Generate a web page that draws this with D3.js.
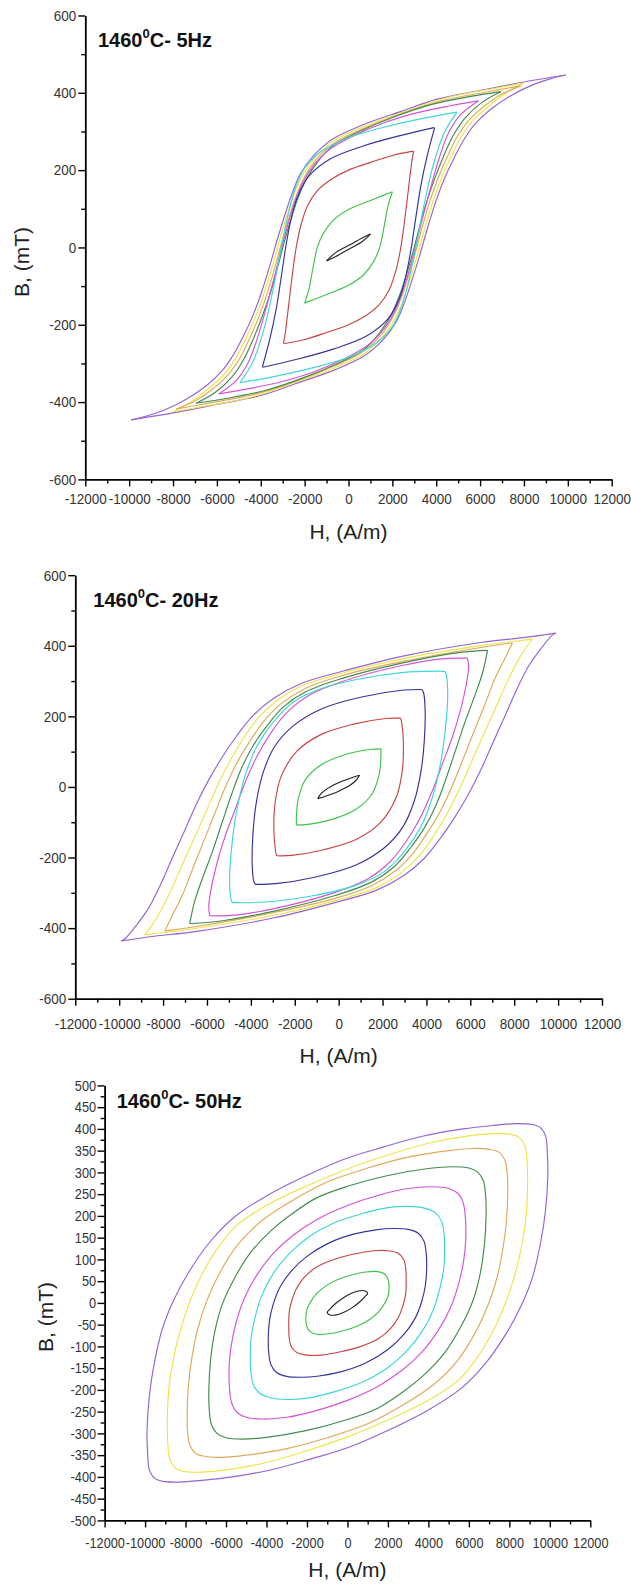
<!DOCTYPE html>
<html><head><meta charset="utf-8">
<script src="https://cdn.jsdelivr.net/npm/d3@7"></script>
<style>body{margin:0;background:#fff} svg{display:block}</style>
</head><body>
<svg id="c" width="631" height="1590"></svg>
<script>
// ---------- data ----------
const loopOrder = ["purple","yellow","orange","dkgreen","magenta","cyan","navy","red","green","black"];
const loopColors = {purple:"#9464d2", yellow:"#eee44a", orange:"#e2a858", dkgreen:"#3f8c4c",
  magenta:"#d452d8", cyan:"#3fd6d6", navy:"#33339e", red:"#c84545", green:"#3fc44a", black:"#222222"};

const xTicks = [-12000,-10000,-8000,-6000,-4000,-2000,0,2000,4000,6000,8000,10000,12000];
const xMinor = [-11000,-9000,-7000,-5000,-3000,-1000,1000,3000,5000,7000,9000,11000];
const yTicks600 = [-600,-400,-200,0,200,400,600];
const yMinor600 = [-500,-300,-100,100,300,500];
const yTicks500 = [-500,-450,-400,-350,-300,-250,-200,-150,-100,-50,0,50,100,150,200,250,300,350,400,450,500];
const yMinor500 = [-475,-425,-375,-325,-275,-225,-175,-125,-75,-25,25,75,125,175,225,275,325,375,425,475];

// Each array: descending (upper) branch of the loop, [H (A/m), B (mT)], from +tip to -tip.
// The ascending branch is its point reflection (loops are symmetric about the origin).
// 1460 C - 5 Hz
const f5_purple = [[9900,446],[8000,428],[6000,406],[4000,383],[2400,352],[600,316],[-700,281],[-1600,237],[-2200,190],[-2600,135],[-2950,75],[-3250,20],[-3550,-40],[-3900,-105],[-4350,-175],[-4870,-238],[-5330,-285],[-5780,-320],[-6470,-357],[-7380,-392],[-8290,-418],[-9200,-436],[-9900,-446]];
const f5_yellow = [[8000,425],[6500,410],[4500,388],[2500,350],[700,313],[-650,277],[-1520,233],[-2100,187],[-2500,135],[-2850,75],[-3140,20],[-3430,-40],[-3770,-105],[-4210,-175],[-4700,-238],[-5150,-287],[-5650,-327],[-6400,-366],[-7200,-400],[-8000,-425]];
const f5_orange = [[7850,418],[6300,402],[4300,380],[2400,346],[700,308],[-600,272],[-1450,229],[-2000,183],[-2400,131],[-2740,72],[-3030,17],[-3310,-42],[-3640,-107],[-4070,-177],[-4530,-238],[-4980,-289],[-5500,-330],[-6200,-366],[-7000,-397],[-7850,-418]];
const f5_dkgreen = [[6950,403],[5500,390],[3800,370],[2100,338],[500,300],[-700,264],[-1400,222],[-1930,176],[-2320,125],[-2650,68],[-2930,14],[-3200,-45],[-3520,-110],[-3930,-178],[-4350,-238],[-4780,-290],[-5300,-334],[-6100,-376],[-6950,-403]];
const f5_magenta = [[5920,379],[4600,366],[3100,348],[1600,322],[200,288],[-900,252],[-1650,208],[-2150,160],[-2520,105],[-2820,48],[-3080,-8],[-3350,-70],[-3700,-145],[-4100,-225],[-4550,-295],[-5100,-343],[-5920,-379]];
const f5_cyan = [[4950,350],[3400,334],[1600,311],[0,284],[-1250,248],[-2000,205],[-2430,152],[-2730,90],[-2980,25],[-3220,-45],[-3500,-125],[-3850,-210],[-4350,-295],[-4950,-350]];
const f5_navy = [[3900,310],[2400,290],[700,263],[-800,230],[-1800,185],[-2330,130],[-2630,70],[-2850,5],[-3050,-70],[-3300,-160],[-3600,-240],[-3930,-310]];
const f5_red = [[2950,249],[2000,238],[1000,220],[0,200],[-800,176],[-1400,148],[-1850,110],[-2150,62],[-2370,5],[-2560,-70],[-2730,-150],[-2880,-220],[-2970,-249]];
const f5_green = [[2000,144],[1200,126],[0,98],[-700,70],[-1150,36],[-1420,0],[-1620,-53],[-1800,-107],[-2000,-144]];
const f5_black = [[1000,35],[600,24],[200,11],[-200,-1],[-600,-14],[-900,-29],[-1000,-35]];

// 1460 C - 20 Hz
const f20_purple = [[9900,436],[8400,423],[6550,410],[2880,370],[130,327],[-1705,293],[-2990,250],[-3905,202],[-4640,145],[-5280,87],[-5920,20],[-6470,-47],[-7020,-124],[-7570,-200],[-8120,-277],[-8670,-344],[-9220,-392],[-9700,-428],[-9900,-436]];
const f20_yellow = [[8840,419],[6550,401],[2880,363],[130,322],[-1705,286],[-2805,245],[-3720,192],[-4365,135],[-4915,78],[-5465,11],[-6015,-66],[-6565,-143],[-7115,-219],[-7665,-296],[-8215,-363],[-8600,-400],[-8840,-419]];
const f20_orange = [[7920,408],[6550,396],[2880,355],[130,315],[-1520,279],[-2620,236],[-3450,183],[-4090,125],[-4640,68],[-5150,1],[-5650,-76],[-6200,-162],[-6690,-238],[-7115,-306],[-7570,-363],[-7920,-408]];
const f20_dkgreen = [[6785,387],[5630,382],[2880,351],[130,307],[-1520,269],[-2530,226],[-3265,173],[-3905,116],[-4455,49],[-4860,-18],[-5280,-95],[-5740,-181],[-6200,-258],[-6565,-325],[-6785,-387]];
const f20_magenta = [[5870,365],[4710,363],[2880,344],[130,298],[-1340,260],[-2345,212],[-3080,154],[-3720,87],[-4270,11],[-4730,-66],[-5190,-143],[-5555,-219],[-5830,-296],[-5920,-340],[-5870,-365]];
const f20_cyan = [[4860,327],[4345,328],[2880,324],[1045,307],[-790,279],[-2070,240],[-2990,183],[-3720,116],[-4270,30],[-4640,-66],[-4860,-162],[-4970,-258],[-4915,-315],[-4860,-327]];
const f20_navy = [[3795,276],[2880,274],[1045,255],[-790,221],[-2070,173],[-2900,116],[-3450,39],[-3760,-47],[-3905,-133],[-3940,-219],[-3870,-267],[-3795,-276]];
const f20_red = [[2825,195],[2145,194],[680,178],[-790,149],[-1890,102],[-2620,30],[-2900,-47],[-2950,-124],[-2880,-180],[-2825,-195]];
const f20_green = [[1925,108],[1410,106],[310,92],[-790,63],[-1520,20],[-1850,-37],[-1925,-85],[-1925,-108]];
const f20_black = [[950,33],[500,24],[0,12],[-500,-4],[-800,-19],[-950,-33]];

// 1460 C - 50 Hz (half loop from the right-hand extreme to the left-hand extreme)
const f50_purple = [[9900,290],[9880,340],[9780,385],[9500,404],[9000,411],[8300,412],[7200,408],[5700,400],[3700,383],[1750,358],[0,333],[-2100,291],[-4000,246],[-5600,197],[-6800,140],[-7850,70],[-8600,5],[-9150,-60],[-9550,-140],[-9780,-210],[-9900,-290]];
const f50_yellow = [[8900,270],[8880,320],[8780,358],[8500,380],[8000,388],[7200,389],[6000,384],[4000,367],[2000,340],[0,308],[-2100,267],[-4000,224],[-5500,177],[-6500,120],[-7300,55],[-7850,-5],[-8300,-70],[-8650,-140],[-8830,-200],[-8900,-270]];
const f50_orange = [[7920,250],[7900,295],[7780,328],[7500,346],[7000,353],[6200,355],[5000,350],[3000,335],[1000,310],[-1000,278],[-2700,236],[-4200,190],[-5400,135],[-6300,70],[-6950,5],[-7400,-60],[-7700,-130],[-7860,-190],[-7920,-250]];
const f50_dkgreen = [[6850,200],[6830,245],[6720,280],[6450,300],[6000,310],[5200,313],[4000,309],[2000,293],[0,268],[-1500,242],[-2700,206],[-3800,165],[-4800,115],[-5600,55],[-6200,-5],[-6550,-65],[-6760,-130],[-6850,-200]];
const f50_magenta = [[5850,150],[5830,195],[5720,230],[5450,252],[5000,263],[4200,267],[3000,263],[1500,247],[0,224],[-1500,192],[-2700,155],[-3700,112],[-4500,62],[-5100,10],[-5500,-45],[-5750,-100],[-5850,-150]];
const f50_cyan = [[4800,115],[4780,155],[4650,188],[4350,207],[3800,218],[3000,222],[2000,219],[700,205],[-700,183],[-1900,152],[-2900,112],[-3700,65],[-4250,15],[-4600,-40],[-4760,-80],[-4800,-115]];
const f50_navy = [[3910,75],[3890,115],[3780,142],[3500,160],[3000,169],[2300,171],[1400,168],[300,158],[-900,138],[-2000,107],[-2800,72],[-3350,35],[-3680,-5],[-3850,-40],[-3910,-75]];
const f50_red = [[2900,45],[2880,78],[2780,100],[2500,114],[2000,120],[1300,120],[400,113],[-600,101],[-1500,83],[-2150,58],[-2550,30],[-2780,0],[-2880,-22],[-2900,-45]];
const f50_green = [[2050,30],[2020,52],[1850,66],[1500,72],[900,71],[200,64],[-500,53],[-1100,38],[-1550,20],[-1850,0],[-2000,-15],[-2050,-30]];
const f50_black = [[1000,22],[900,27],[600,28],[200,22],[-200,12],[-600,-2],[-900,-16],[-1000,-22]];

// ---------- drawing ----------
const svg = d3.select("#c");
const FONT = "'Liberation Sans', Arial, Helvetica, sans-serif";

const panels = [
  {title:"5Hz", left:85.3, right:611.7, top:15.5, bottom:479.4, yDomain:[-600,600], yTicks:yTicks600, yMinor:yMinor600,
   titleX:98, titleY:46.7, yLabel:{x:22, y:262}, closed:false, xPad:7, xLab:60, sx:0.9,
   loops:{purple:f5_purple,yellow:f5_yellow,orange:f5_orange,dkgreen:f5_dkgreen,magenta:f5_magenta,cyan:f5_cyan,navy:f5_navy,red:f5_red,green:f5_green,black:f5_black}},
  {title:"20Hz", left:75.3, right:602, top:575.2, bottom:998.7, yDomain:[-600,600], yTicks:yTicks600, yMinor:yMinor600,
   titleX:93.3, titleY:607, yLabel:null, closed:false, xPad:13, xLab:64, sx:0.9,
   loops:{purple:f20_purple,yellow:f20_yellow,orange:f20_orange,dkgreen:f20_dkgreen,magenta:f20_magenta,cyan:f20_cyan,navy:f20_navy,red:f20_red,green:f20_green,black:f20_black}},
  {title:"50Hz", left:104.6, right:590.3, top:1085.4, bottom:1520.4, yDomain:[-500,500], yTicks:yTicks500, yMinor:yMinor500,
   titleX:116.7, titleY:1108, yLabel:{x:46, y:1317}, closed:true, xPad:10, xLab:57, sx:0.85,
   loops:{purple:f50_purple,yellow:f50_yellow,orange:f50_orange,dkgreen:f50_dkgreen,magenta:f50_magenta,cyan:f50_cyan,navy:f50_navy,red:f50_red,green:f50_green,black:f50_black}}
];

const fmt = d => String(d);   // plain hyphen-minus, as in the original

panels.forEach(cfg => {
  const x = d3.scaleLinear().domain([-12000,12000]).range([cfg.left,cfg.right]);
  const y = d3.scaleLinear().domain(cfg.yDomain).range([cfg.bottom,cfg.top]);
  const g = svg.append("g");

  // loops
  const lg = g.append("g").attr("fill","none").attr("stroke-width",1.15);
  loopOrder.forEach(name => {
    const upper = cfg.loops[name];
    const lower = upper.map(([h,b]) => [-h,-b]);
    const col = loopColors[name];
    if (cfg.closed) {
      const pts = upper.concat(lower.slice(1, lower.length-1));
      const line = d3.line().x(d=>x(d[0])).y(d=>y(d[1])).curve(d3.curveCatmullRomClosed.alpha(0.5));
      lg.append("path").attr("d", line(pts)).attr("stroke", col);
    } else {
      const line = d3.line().x(d=>x(d[0])).y(d=>y(d[1])).curve(d3.curveCatmullRom.alpha(0.5));
      lg.append("path").attr("d", line(upper)).attr("stroke", col);
      lg.append("path").attr("d", line(lower)).attr("stroke", col);
    }
  });

  // minor ticks
  g.append("g").attr("transform",`translate(0,${cfg.bottom})`)
    .call(d3.axisBottom(x).tickValues(xMinor).tickSize(4).tickSizeOuter(0).tickFormat(""))
    .call(s=>{s.select(".domain").remove(); s.selectAll("line").attr("stroke","#000").attr("stroke-width",1.4);});
  g.append("g").attr("transform",`translate(${cfg.left},0)`)
    .call(d3.axisLeft(y).tickValues(cfg.yMinor).tickSize(4).tickSizeOuter(0).tickFormat(""))
    .call(s=>{s.select(".domain").remove(); s.selectAll("line").attr("stroke","#000").attr("stroke-width",1.4);});

  // major axes
  const xa = g.append("g").attr("transform",`translate(0,${cfg.bottom})`)
    .call(d3.axisBottom(x).tickValues(xTicks).tickSize(7).tickSizeOuter(0).tickPadding(cfg.xPad).tickFormat(fmt));
  const ya = g.append("g").attr("transform",`translate(${cfg.left},0)`)
    .call(d3.axisLeft(y).tickValues(cfg.yTicks).tickSize(7).tickSizeOuter(0).tickPadding(3).tickFormat(fmt));
  [xa,ya].forEach(a => {
    a.select(".domain").attr("stroke","#000").attr("stroke-width",1.8);
    a.selectAll(".tick line").attr("stroke","#000").attr("stroke-width",1.4);
    a.selectAll("text").attr("font-family",FONT).attr("font-size",15).attr("fill","#333")
      .attr("transform",`scale(${cfg.sx},1)`);
  });

  // title
  const t = g.append("text").attr("x",cfg.titleX).attr("y",cfg.titleY)
    .attr("font-family",FONT).attr("font-weight","bold").attr("font-size",20).attr("fill","#111");
  t.append("tspan").text("1460");
  t.append("tspan").attr("font-size",13).attr("dy",-9).text("0");
  t.append("tspan").attr("dy",9).text("C- " + cfg.title);

  // axis titles
  g.append("text").attr("x", x(0)).attr("y", cfg.bottom + cfg.xLab).attr("text-anchor","middle")
    .attr("font-family",FONT).attr("font-size",21).attr("fill","#222").text("H, (A/m)");
  if (cfg.yLabel) {
    g.append("text").attr("transform",`translate(${cfg.yLabel.x + 7},${cfg.yLabel.y}) rotate(-90)`)
      .attr("text-anchor","middle").attr("font-family",FONT).attr("font-size",21).attr("fill","#222").text("B, (mT)");
  }
});
</script>
</body></html>
